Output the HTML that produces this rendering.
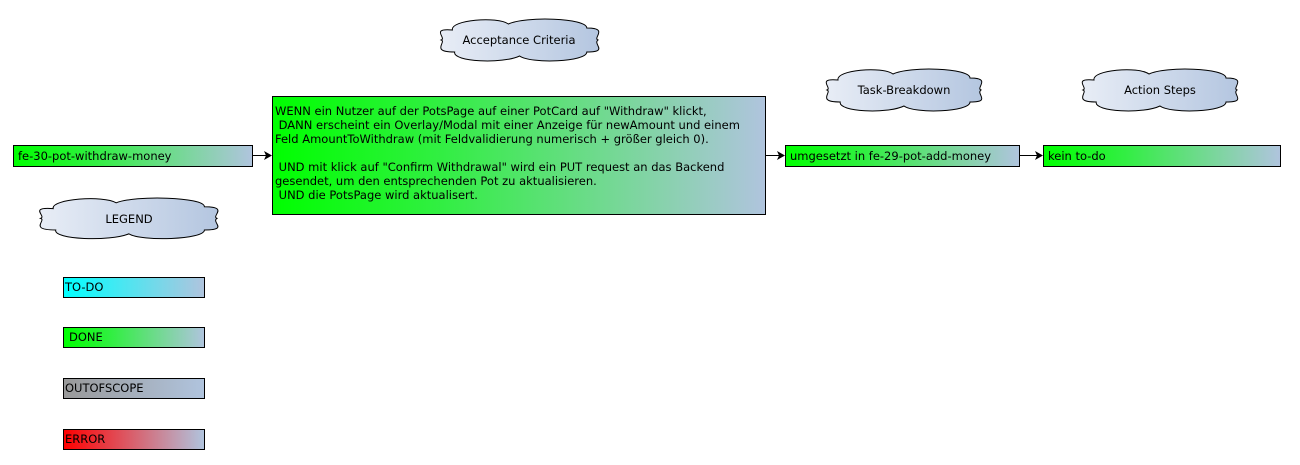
<!DOCTYPE html>
<html><head><meta charset="utf-8"><style>
body{margin:0;background:#fff;}
svg{display:block;font-family:"DejaVu Sans","Liberation Sans",sans-serif;font-size:11.5px;}
</style></head><body>
<svg width="1300" height="465" viewBox="0 0 1300 465">
<defs>
<linearGradient id="g" x1="0" x2="1"><stop offset="0" stop-color="#00ff00"/><stop offset="0.35" stop-color="#33ee44"/><stop offset="1" stop-color="#b0c4de"/></linearGradient>
<linearGradient id="c" x1="0" x2="1"><stop offset="0" stop-color="#00ffff"/><stop offset="1" stop-color="#b0c4de"/></linearGradient>
<linearGradient id="o" x1="0" x2="1"><stop offset="0" stop-color="#999999"/><stop offset="1" stop-color="#b0c4de"/></linearGradient>
<linearGradient id="r" x1="0" x2="1"><stop offset="0" stop-color="#ff0000"/><stop offset="1" stop-color="#b0c4de"/></linearGradient>
<linearGradient id="cl" x1="0" x2="1"><stop offset="0" stop-color="#e8edf6"/><stop offset="1" stop-color="#b4c6e0"/></linearGradient>
<path id="cloud" d="M20,12 C18,2 60,-2 70,6 C85,-2 140,0 140,10 C160,10 145,20 150,22 C145,26 160,34 140,34 C140,44 90,46 80,38 C65,46 20,44 22,34 C0,34 15,24 10,22 C15,20 0,10 20,12 Z" fill="url(#cl)" stroke="#000" stroke-width="1" vector-effect="non-scaling-stroke"/>
</defs>
<g transform="translate(430,18) scale(1.12,1)"><use href="#cloud"/></g>
<text x="519" y="44" text-anchor="middle">Acceptance Criteria</text>
<g transform="translate(816,68) scale(1.1,1)"><use href="#cloud"/></g>
<text x="904" y="94" text-anchor="middle">Task-Breakdown</text>
<g transform="translate(1072,68) scale(1.1,1)"><use href="#cloud"/></g>
<text x="1160" y="94" text-anchor="middle">Action Steps</text>
<g transform="translate(28,197) scale(1.26,0.97)"><use href="#cloud"/></g>
<text x="129" y="223" text-anchor="middle">LEGEND</text>

<rect x="13.5" y="145.5" width="239" height="21" fill="url(#g)" stroke="#000"/>
<text x="18" y="160">fe-30-pot-withdraw-money</text>
<line x1="253" y1="155.5" x2="266" y2="155.5" stroke="#000"/><path d="M264,151 L272,155.5 L264,160 L266,155.5Z"/>

<rect x="272.5" y="96.5" width="493" height="118" fill="url(#g)" stroke="#000"/>
<text x="275" y="115">WENN ein Nutzer auf der PotsPage auf einer PotCard auf "Withdraw" klickt,</text>
<text x="275" y="129">&#160;DANN erscheint ein Overlay/Modal mit einer Anzeige für newAmount und einem</text>
<text x="275" y="143">Feld AmountToWithdraw (mit Feldvalidierung numerisch + größer gleich 0).</text>
<text x="275" y="171">&#160;UND mit klick auf "Confirm Withdrawal" wird ein PUT request an das Backend</text>
<text x="275" y="185">gesendet, um den entsprechenden Pot zu aktualisieren.</text>
<text x="275" y="199">&#160;UND die PotsPage wird aktualisert.</text>

<line x1="766" y1="155.5" x2="779" y2="155.5" stroke="#000"/><path d="M777,151 L785,155.5 L777,160 L779,155.5Z"/>
<rect x="785.5" y="145.5" width="234" height="21" fill="url(#g)" stroke="#000"/>
<text x="790" y="160">umgesetzt in fe-29-pot-add-money</text>
<line x1="1020" y1="155.5" x2="1037" y2="155.5" stroke="#000"/><path d="M1035,151 L1043,155.5 L1035,160 L1037,155.5Z"/>
<rect x="1043.5" y="145.5" width="237" height="21" fill="url(#g)" stroke="#000"/>
<text x="1048" y="160">kein to-do</text>

<rect x="63.5" y="277.5" width="141" height="20" fill="url(#c)" stroke="#000"/>
<text x="65" y="291">TO-DO</text>
<rect x="63.5" y="327.5" width="141" height="20" fill="url(#g)" stroke="#000"/>
<text x="69" y="341">DONE</text>
<rect x="63.5" y="378.5" width="141" height="20" fill="url(#o)" stroke="#000"/>
<text x="65" y="392">OUTOFSCOPE</text>
<rect x="63.5" y="429.5" width="141" height="20" fill="url(#r)" stroke="#000"/>
<text x="65" y="443">ERROR</text>
</svg>
</body></html>
